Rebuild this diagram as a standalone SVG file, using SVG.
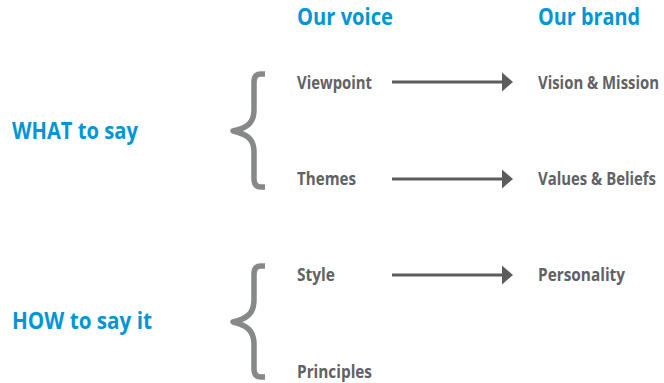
<svg xmlns="http://www.w3.org/2000/svg" width="664" height="383" viewBox="0 0 664 383">
<style>
.h{font-family:"Open Sans","Liberation Sans",sans-serif;font-weight:700;fill:#0096d6;font-size:24px}
.g{font-family:"Open Sans","Liberation Sans",sans-serif;font-weight:700;fill:#0096d6;font-size:23px}
.t{font-family:"Open Sans","Liberation Sans",sans-serif;font-weight:700;fill:#606266;font-size:17px}
.brace{fill:none;stroke:#87888a;stroke-width:5.5;stroke-linejoin:round}
.conn line{stroke:#5c5c5e;stroke-width:3}
.conn polygon{fill:#5c5c5e}
</style>
<rect width="664" height="383" fill="#ffffff"/>
<g id="col-voice"><text class="h" x="297" y="25" textLength="96" lengthAdjust="spacingAndGlyphs">Our voice</text></g>
<g id="col-brand"><text class="h" x="538" y="25" textLength="102" lengthAdjust="spacingAndGlyphs">Our brand</text></g>
<g id="what"><text class="g" x="12" y="139" textLength="126" lengthAdjust="spacingAndGlyphs">WHAT to say</text></g>
<g id="how"><text class="g" x="12" y="329" textLength="140" lengthAdjust="spacingAndGlyphs">HOW to say it</text></g>
<g id="brace-what"><path class="brace" d="M265 74 H261 Q254 74 254 82 V110 C254 124 246 128 233 131 C246 134 254 138 254 152 V179 Q254 187 261 187 H265"/></g>
<g id="brace-how"><path class="brace" d="M265 266 H261 Q254 266 254 274 V300 C254 314 246 319 233 322 C246 325 254 330 254 344 V369 Q254 377 261 377 H265"/></g>
<g id="viewpoint"><text class="t" x="297" y="89" textLength="75" lengthAdjust="spacingAndGlyphs">Viewpoint</text></g>
<g id="themes"><text class="t" x="297" y="185" textLength="59" lengthAdjust="spacingAndGlyphs">Themes</text></g>
<g id="style"><text class="t" x="297" y="281" textLength="38" lengthAdjust="spacingAndGlyphs">Style</text></g>
<g id="principles"><text class="t" x="297" y="378" textLength="75" lengthAdjust="spacingAndGlyphs">Principles</text></g>
<g id="vision"><text class="t" x="538" y="89" textLength="121" lengthAdjust="spacingAndGlyphs">Vision &amp; Mission</text></g>
<g id="values"><text class="t" x="538" y="185" textLength="118" lengthAdjust="spacingAndGlyphs">Values &amp; Beliefs</text></g>
<g id="personality"><text class="t" x="538" y="281" textLength="87" lengthAdjust="spacingAndGlyphs">Personality</text></g>
<g id="connectors" class="conn">
<line x1="392" y1="82" x2="503" y2="82"/><polygon points="502,72.5 513,82 502,91.5"/>
<line x1="392" y1="179" x2="503" y2="179"/><polygon points="502,169.5 513,179 502,188.5"/>
<line x1="392" y1="275" x2="503" y2="275"/><polygon points="502,265.5 513,275 502,284.5"/>
</g>
</svg>
